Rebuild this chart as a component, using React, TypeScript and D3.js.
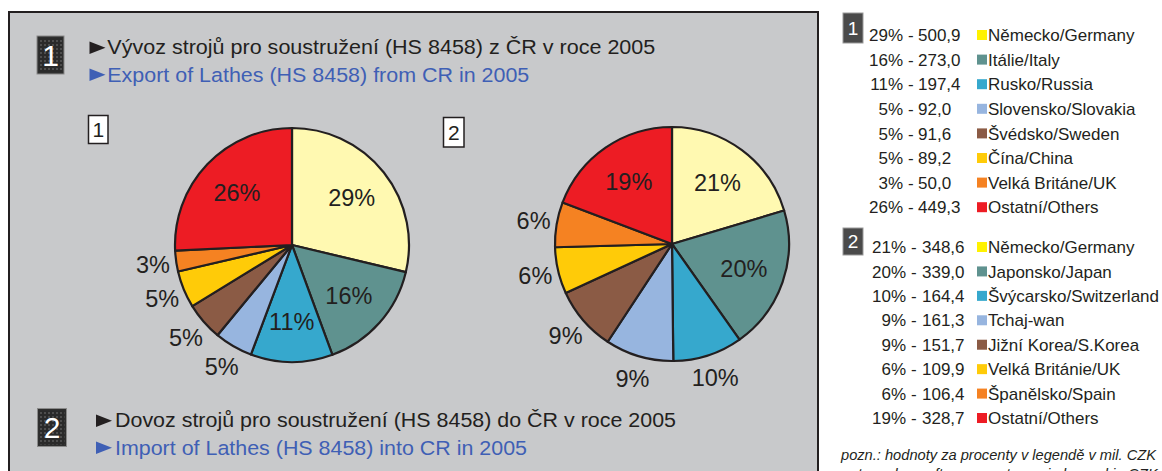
import React from 'react';
import * as d3 from 'd3';

const exportCountries = ['Německo/Germany', 'Itálie/Italy', 'Rusko/Russia', 'Slovensko/Slovakia', 'Švédsko/Sweden', 'Čína/China', 'Velká Británe/UK', 'Ostatní/Others'];
const exportValues = [500.9, 273.0, 197.4, 92.0, 91.6, 89.2, 50.0, 449.3];
const exportPercents = ['29%', '16%', '11%', '5%', '5%', '5%', '3%', '26%'];

const importCountries = ['Německo/Germany', 'Japonsko/Japan', 'Švýcarsko/Switzerland', 'Tchaj-wan', 'Jižní Korea/S.Korea', 'Velká Británie/UK', 'Španělsko/Spain', 'Ostatní/Others'];
const importValues = [348.6, 339.0, 164.4, 161.3, 151.7, 109.9, 106.4, 328.7];
const importPercents = ['21%', '20%', '10%', '9%', '9%', '6%', '6%', '19%'];

const sliceColors = ['#fff9b1', '#5f928f', '#36a8cd', '#97b5df', '#8b5b45', '#ffcb08', '#f58222', '#ed1c24'];
const legendColors = ['#fff200', '#5f928f', '#36a8cd', '#97b5df', '#8b5b45', '#ffcb08', '#f58222', '#ed1c24'];

const titleExportCz = 'Vývoz strojů pro soustružení (HS 8458) z ČR v roce 2005';
const titleExportEn = 'Export of Lathes (HS 8458) from CR in 2005';
const titleImportCz = 'Dovoz strojů pro soustružení (HS 8458) do ČR v roce 2005';
const titleImportEn = 'Import of Lathes (HS 8458) into CR in 2005';
const noteCz = 'pozn.: hodnoty za procenty v legendě v mil. CZK';
const noteEn = 'note: values after percentages in legend in CZK mil.';

const FONT = '"Liberation Sans", Arial, Helvetica, sans-serif';
const INK = '#231f20';
const BLUE = '#3f5fb5';

const fmt = (v: number) => d3.format('.1f')(v).replace('.', ',');

function Pie({ cx, cy, values, percents }: { cx: number; cy: number; values: number[]; percents: string[] }) {
  const r = 117;
  const total = d3.sum(values);
  const arcs = d3.pie<number>().sort(null).value((d) => d)(values);
  const arc = d3.arc<d3.PieArcDatum<number>>().innerRadius(0).outerRadius(r);
  const inner = d3.arc<d3.PieArcDatum<number>>().innerRadius(r * 0.65).outerRadius(r * 0.65);
  const outer = d3.arc<d3.PieArcDatum<number>>().innerRadius(r * 1.2).outerRadius(r * 1.2);
  return (
    <g transform={`translate(${cx},${cy})`}>
      {arcs.map((a, i) => (
        <path key={i} d={arc(a) || ''} fill={sliceColors[i]} stroke={INK} strokeWidth={2.2} strokeLinejoin="round" />
      ))}
      {arcs.map((a, i) => {
        const isIn = a.value / total > 0.1;
        const [x, y] = (isIn ? inner : outer).centroid(a);
        return (
          <text key={'t' + i} x={x} y={y} dy="0.36em" textAnchor="middle" fontSize={23.5} fill={INK} fontFamily={FONT}>
            {percents[i]}
          </text>
        );
      })}
    </g>
  );
}

function Badge({ x, y, w, h, label, fs }: { x: number; y: number; w: number; h: number; label: string; fs: number }) {
  return (
    <g>
      <rect x={x} y={y} width={w} height={h} fill="#2e2e2e" stroke="#8a8a8a" strokeWidth={1} />
      <rect x={x + 2} y={y + 2} width={w - 4} height={h - 4} fill="url(#dots)" />
      <text x={x + w / 2} y={y + h / 2} dy="0.36em" textAnchor="middle" fontSize={fs} fill="#fff" fontFamily={FONT}>
        {label}
      </text>
    </g>
  );
}

function Triangle({ x, y, color }: { x: number; y: number; color: string }) {
  const p = d3.path();
  p.moveTo(x, y - 12.5);
  p.lineTo(x + 16, y - 6.25);
  p.lineTo(x, y);
  p.closePath();
  return <path d={p.toString()} fill={color} />;
}

function Legend({ x0, y0, step, percents, values, countries, pctEnd, valStart, badgeY, badgeH, label }: any) {
  return (
    <g fontFamily={FONT} fontSize={17} fill={INK}>
      <rect x={x0} y={badgeY} width={20} height={badgeH} fill="#4a4a4a" stroke="#9a9a9a" strokeWidth={1} />
      <text x={x0 + 10} y={badgeY + badgeH / 2} dy="0.36em" textAnchor="middle" fontSize={19} fill="#fff">{label}</text>
      {countries.map((c: string, i: number) => {
        const y = y0 + i * step;
        return (
          <g key={i}>
            <text x={pctEnd} y={y} dy="0.36em" textAnchor="end">{percents[i]}</text>
            <text x={pctEnd + 5} y={y} dy="0.36em">-</text>
            <text x={valStart} y={y} dy="0.36em">{fmt(values[i])}</text>
            <rect x={977} y={y - 5} width={10} height={10} fill={legendColors[i]} />
            <text x={988} y={y} dy="0.36em">{c}</text>
          </g>
        );
      })}
    </g>
  );
}

export default function App() {
  return (
    <svg width={1162} height={471} style={{ position: 'absolute', left: 0, top: 0 }} fontFamily={FONT}>
      <defs>
        <pattern id="dots" width={4} height={4} patternUnits="userSpaceOnUse">
          <rect width={4} height={4} fill="#2a2a2a" />
          <rect width={2} height={2} fill="#4d4d4d" />
        </pattern>
      </defs>
      <rect x={0} y={0} width={1162} height={471} fill="#fff" />
      <rect x={9} y={12} width={809} height={520} fill="#c8c9cb" stroke={INK} strokeWidth={2} />

      <Badge x={37} y={36} w={27} h={38} label="1" fs={30} />
      <Triangle x={89.5} y={54} color={INK} />
      <text x={107.3} y={54} fontSize={20.5} fill={INK} textLength={548} lengthAdjust="spacingAndGlyphs">{titleExportCz}</text>
      <Triangle x={89.5} y={81} color={BLUE} />
      <text x={107.3} y={82.3} fontSize={20.5} fill={BLUE} textLength={422} lengthAdjust="spacingAndGlyphs">{titleExportEn}</text>

      <rect x={88.5} y={115.5} width={19.5} height={28} fill="#fff" stroke={INK} strokeWidth={1.5} />
      <text x={98.25} y={129.5} dy="0.36em" textAnchor="middle" fontSize={21} fill={INK}>1</text>
      <rect x={443.5} y={117.5} width={20.5} height={29.5} fill="#fff" stroke={INK} strokeWidth={1.5} />
      <text x={453.75} y={132.25} dy="0.36em" textAnchor="middle" fontSize={21} fill={INK}>2</text>

      <Pie cx={292} cy={245} values={exportValues} percents={exportPercents} />
      <Pie cx={672} cy={244} values={importValues} percents={importPercents} />

      <Badge x={37.5} y={408.5} w={29} h={38} label="2" fs={30} />
      <Triangle x={96} y={427} color={INK} />
      <text x={115} y={427} fontSize={20.5} fill={INK} textLength={561} lengthAdjust="spacingAndGlyphs">{titleImportCz}</text>
      <Triangle x={96} y={454} color={BLUE} />
      <text x={115} y={455} fontSize={20.5} fill={BLUE} textLength={412} lengthAdjust="spacingAndGlyphs">{titleImportEn}</text>

      <Legend x0={843} y0={35} step={24.6} percents={exportPercents} values={exportValues} countries={exportCountries}
        pctEnd={903} valStart={918} badgeY={13} badgeH={30} label="1" />
      <Legend x0={843} y0={247} step={24.43} percents={importPercents} values={importValues} countries={importCountries}
        pctEnd={906} valStart={922} badgeY={228} badgeH={27} label="2" />

      <text x={841} y={460} fontSize={15} fontStyle="italic" fill={INK} textLength={315} lengthAdjust="spacingAndGlyphs">{noteCz}</text>
      <text x={841} y={479} fontSize={15} fontStyle="italic" fill={INK}>{noteEn}</text>
    </svg>
  );
}
